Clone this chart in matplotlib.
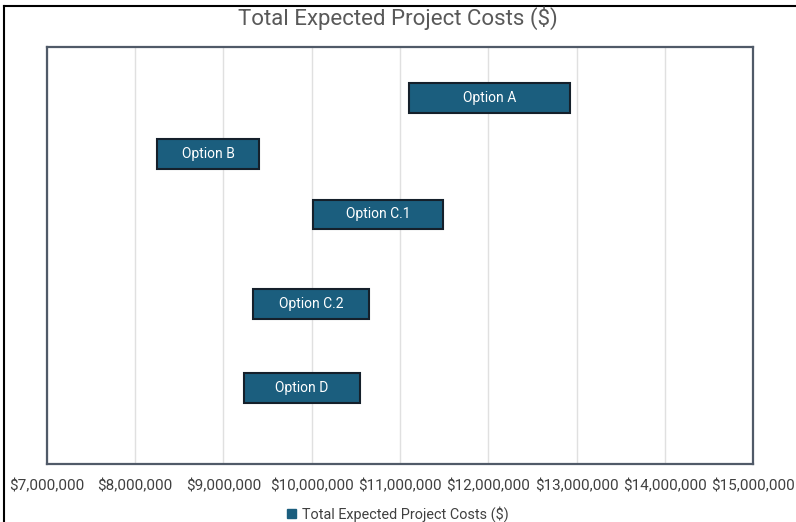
import matplotlib.pyplot as plt
from matplotlib.patches import Rectangle
from matplotlib.ticker import FuncFormatter

# ── data ─────────────────────────────────────────
options = ["Option A", "Option B", "Option C.1", "Option C.2", "Option D"]
cost_low  = [11.10e6, 8.25e6, 10.02e6, 9.34e6, 9.23e6]
cost_high = [12.93e6, 9.40e6, 11.49e6, 10.65e6, 10.55e6]
rows      = [6.15, 5.20, 4.19, 2.68, 1.28]   # vertical placement of each option
x_ticks   = [7e6, 8e6, 9e6, 10e6, 11e6, 12e6, 13e6, 14e6, 15e6]

BAR = "#1b5e7e"
EDGE = "#15202b"
plt.rcParams["font.family"] = ["Roboto", "DejaVu Sans"]

fig = plt.figure(figsize=(7.96, 5.22), dpi=100)
ax = fig.add_axes([0.059, 0.111, 0.887, 0.799])

for name, lo, hi, y in zip(options, cost_low, cost_high, rows):
    ax.barh(y, hi - lo, left=lo, height=0.5, color=BAR,
            edgecolor=EDGE, linewidth=1.5, zorder=3)
    ax.text((lo + hi) / 2, y, name, color="white", fontsize=10,
            ha="center", va="center", zorder=4)

ax.set_xlim(7e6, 15e6)
ax.set_ylim(0, 7)
ax.set_xticks(x_ticks)
ax.xaxis.set_major_formatter(FuncFormatter(lambda v, p: f"${v:,.0f}"))
ax.tick_params(axis="x", length=0, labelsize=11, labelcolor="#404040", pad=11)
ax.set_yticks([])
ax.grid(axis="x", color="#e0e0e0", linewidth=1, zorder=0)
for s in ax.spines.values():
    s.set_color("#505a68")
    s.set_linewidth(1.6)

fig.text(0.5, 0.965, "Total Expected Project Costs ($)", ha="center", va="center",
         fontsize=16, color="#595959")

leg_h = Rectangle((0, 0), 1, 1, color=BAR)
fig.legend([leg_h], ["Total Expected Project Costs ($)"], loc="center",
           bbox_to_anchor=(0.5, 0.015), frameon=False, fontsize=10.4,
           handlelength=0.6, handleheight=0.6, handletextpad=0.4,
           labelcolor="#404040")

# outer frame of the screenshot
fig.add_artist(plt.Line2D([0.005, 0.005], [0, 0.988], color="black", lw=1.5))
fig.add_artist(plt.Line2D([0.005, 1], [0.988, 0.988], color="black", lw=1.5))

fig.savefig("out.png", dpi=100)
